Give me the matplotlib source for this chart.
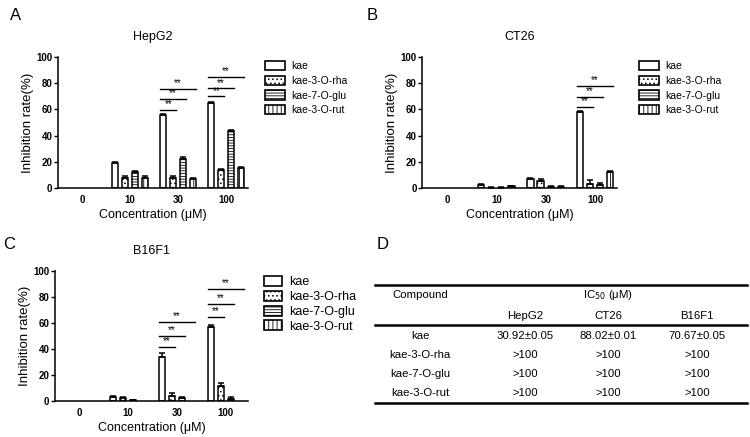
import matplotlib
matplotlib.use("Agg")
import matplotlib.pyplot as plt
import numpy as np
from matplotlib.patches import Patch
from matplotlib.lines import Line2D

plt.rcParams['font.family'] = ['Liberation Sans', 'DejaVu Sans']
plt.rcParams['hatch.linewidth'] = 0.6

# data
conc = ["0", "10", "30", "100"]
series = ["kae", "kae-3-O-rha", "kae-7-O-glu", "kae-3-O-rut"]
hatches = ["", "....", "------", "||||"]

hep_vals = [[0, 19, 55.5, 65], [0, 8, 7.5, 13.5], [0, 12.5, 22.5, 43.5], [0, 8, 6.5, 15]]
hep_err = [[0, 1, 1, 1], [0, 1, 1.5, 1], [0, 0.8, 1, 0.8], [0, 1.2, 1.5, 1]]
ct_vals = [[0, 2.5, 6.5, 58], [0, 0.3, 5.5, 3], [0, 0.2, 1, 2], [0, 1.2, 1, 12]]
ct_err = [[0, 0.8, 1, 0.8], [0, 0.3, 1.5, 3], [0, 0.2, 0.5, 2], [0, 0.6, 0.5, 1]]
b16_vals = [[0, 3, 34, 57], [0, 2, 4, 11.5], [0, 0.6, 2, 1.8], [0, 0, 0, 0]]
b16_err = [[0, 0.8, 3, 1.5], [0, 0.8, 2.5, 2.5], [0, 0.4, 1, 1], [0, 0, 0, 0]]

# significance brackets: (group, target series, y)
hep_sig = [(2, 1, 59.5), (2, 2, 68), (2, 3, 75.5), (3, 1, 70), (3, 2, 76), (3, 3, 85)]
ct_sig = [(3, 1, 62), (3, 2, 69.5), (3, 3, 78)]
b16_sig = [(2, 1, 41.5), (2, 2, 50), (2, 3, 61), (3, 1, 64.6), (3, 2, 74.6), (3, 3, 86)]

fig = plt.figure(figsize=(7.5, 4.37), dpi=100)

step = 0.205
w = 0.13


def panel(rect, title, vals, errs, sigs, legsize, legloc, hl, hh, ls):
    ax = fig.add_axes(rect)
    x = np.arange(len(conc))
    for i in range(4):
        xs = x + (i - 1.5) * step
        v = np.array(vals[i], dtype=float)
        e = np.array(errs[i], dtype=float)
        keep = v > 0
        ax.bar(xs[keep], v[keep], width=w, color="white", edgecolor="black",
               linewidth=1.1, hatch=hatches[i])
        ax.errorbar(xs[keep], v[keep], yerr=[np.zeros(keep.sum()), e[keep]], fmt="none",
                    ecolor="black", elinewidth=1.1, capsize=2.2, capthick=1.1)
    for g, t, y in sigs:
        x0 = g - 1.5 * step - w / 2
        x1 = g + (t - 1.5) * step + w / 2
        ax.plot([x0, x1], [y, y], color="black", lw=1)
        ax.text((x0 + x1) / 2, y + 0.5, "**", ha="center", va="bottom", fontsize=7)
    ax.set_xlim(-0.5, 3.45)
    ax.set_ylim(0, 100)
    ax.set_yticks([0, 20, 40, 60, 80, 100])
    ax.set_xticks(x)
    ax.set_xticklabels(conc)
    for lab in ax.get_xticklabels() + ax.get_yticklabels():
        lab.set_fontweight("bold")
        lab.set_fontsize(7)
    ax.tick_params(axis="x", length=0, pad=5)
    ax.tick_params(axis="y", length=3, width=1, pad=1)
    ax.spines["top"].set_visible(False)
    ax.spines["right"].set_visible(False)
    ax.spines["left"].set_linewidth(1.1)
    ax.spines["bottom"].set_linewidth(1.1)
    ax.set_ylabel("Inhibition rate(%)", fontsize=9.5, labelpad=2)
    ax.set_xlabel("Concentration (μM)", fontsize=9, labelpad=3)
    ax.set_title(title, fontsize=9, pad=12)
    handles = [Patch(facecolor="white", edgecolor="black", hatch=hatches[i], lw=1.2)
               for i in range(4)]
    ax.legend(handles, series, loc="upper left", bbox_to_anchor=legloc,
              frameon=False, fontsize=legsize, handlelength=hl, handleheight=hh,
              labelspacing=ls, handletextpad=0.6, borderaxespad=0)
    return ax


panel([0.0773, 0.5698, 0.253, 0.2998], "HepG2", hep_vals, hep_err, hep_sig, 7.5,
      (1.07, 1.0), 1.9, 1.0, 0.42)
panel([0.563, 0.5698, 0.26, 0.2998], "CT26", ct_vals, ct_err, ct_sig, 7.5,
      (1.09, 1.0), 1.9, 1.0, 0.42)
panel([0.0733, 0.0824, 0.257, 0.2975], "B16F1", b16_vals, b16_err, b16_sig, 9,
      (1.06, 1.0), 1.4, 0.85, 0.2)

# panel letters
fig.text(0.013, 0.955, "A", fontsize=12)
fig.text(0.489, 0.955, "B", fontsize=12)
fig.text(0.004, 0.43, "C", fontsize=12)
fig.text(0.502, 0.43, "D", fontsize=12)

# table D
compounds = ["kae", "kae-3-O-rha", "kae-7-O-glu", "kae-3-O-rut"]
cells = ["HepG2", "CT26", "B16F1"]
ic50 = [["30.92±0.05", "88.02±0.01", "70.67±0.05"],
        [">100", ">100", ">100"],
        [">100", ">100", ">100"],
        [">100", ">100", ">100"]]


def fx(px):
    return px / 750


def fy(py):
    return 1 - py / 437


for yy in [285, 325, 403]:
    fig.add_artist(Line2D([fx(375), fx(747)], [fy(yy), fy(yy)], color="black", lw=1.8))

col_x = [420, 525, 608, 697]
fs = 8.2
fig.text(fx(col_x[0]), fy(295), "Compound", ha="center", va="center", fontsize=fs)
fig.text(fx(608), fy(295), "IC$_{50}$ (μM)", ha="center", va="center", fontsize=fs)
for j, c in enumerate(cells):
    fig.text(fx(col_x[j + 1]), fy(316), c, ha="center", va="center", fontsize=fs)
row_y = [336, 355, 374, 393]
for i, comp in enumerate(compounds):
    fig.text(fx(col_x[0]), fy(row_y[i]), comp, ha="center", va="center", fontsize=fs)
    for j in range(3):
        fig.text(fx(col_x[j + 1]), fy(row_y[i]), ic50[i][j], ha="center", va="center", fontsize=fs)

fig.savefig("out.png", dpi=100)
